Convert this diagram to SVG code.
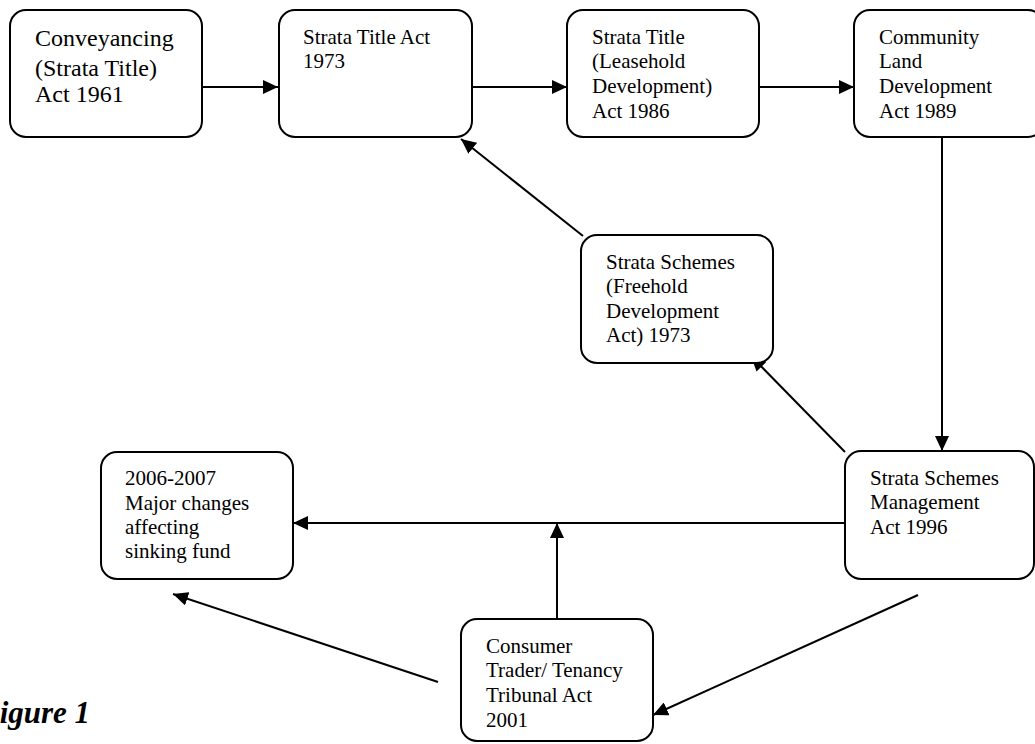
<svg xmlns="http://www.w3.org/2000/svg" width="1035" height="744" viewBox="0 0 1035 744">
<style>
.box{fill:#fff;stroke:#000;stroke-width:2}
.t{font-family:"Liberation Serif","Times New Roman",serif;font-size:21px;fill:#000}
.t1{font-family:"Liberation Serif","Times New Roman",serif;font-size:24px;fill:#000}
.c{stroke:#000;stroke-width:2;fill:none;marker-end:url(#ah)}
.fig{font-family:"Liberation Serif","Times New Roman",serif;font-size:31px;font-weight:bold;font-style:italic;fill:#000}
</style>
<defs>
<marker id="ah" markerUnits="userSpaceOnUse" markerWidth="16" markerHeight="14" refX="15" refY="7" orient="auto">
<path d="M0,0 L15,7 L0,14 Z" fill="#000"/>
</marker>
</defs>
<rect width="1035" height="744" fill="#fff"/>
<g id="connectors">
<line class="c" x1="202" y1="87" x2="278" y2="87"/>
<line class="c" x1="472" y1="87" x2="567" y2="87"/>
<line class="c" x1="759" y1="87" x2="854" y2="87"/>
<line class="c" x1="942" y1="137" x2="942" y2="451"/>
<line class="c" x1="583" y1="236" x2="461" y2="139"/>
<line class="c" x1="845" y1="452" x2="751" y2="356"/>
<line class="c" x1="845" y1="523" x2="293" y2="523"/>
<line class="c" x1="557" y1="619" x2="557" y2="523"/>
<line class="c" x1="918" y1="595" x2="653" y2="715"/>
<line class="c" x1="438" y1="682" x2="173" y2="594"/>
</g>
<g id="n1">
<rect class="box" x="10" y="10" width="192" height="127" rx="16"/>
<text class="t1"><tspan x="35" y="46">Conveyancing</tspan><tspan x="35" y="76">(Strata Title)</tspan><tspan x="35" y="102">Act 1961</tspan></text>
</g>
<g id="n2">
<rect class="box" x="279" y="10" width="193" height="127" rx="16"/>
<text class="t"><tspan x="303" y="44">Strata Title Act</tspan><tspan x="303" y="68">1973</tspan></text>
</g>
<g id="n3">
<rect class="box" x="567" y="10" width="192" height="127" rx="16"/>
<text class="t"><tspan x="592" y="44">Strata Title</tspan><tspan x="592" y="68">(Leasehold</tspan><tspan x="592" y="93">Development)</tspan><tspan x="592" y="118">Act 1986</tspan></text>
</g>
<g id="n4">
<rect class="box" x="854" y="10" width="190" height="127" rx="16"/>
<text class="t"><tspan x="879" y="44">Community</tspan><tspan x="879" y="68">Land</tspan><tspan x="879" y="93">Development</tspan><tspan x="879" y="118">Act 1989</tspan></text>
</g>
<g id="n5">
<rect class="box" x="581" y="235" width="192" height="128" rx="16"/>
<text class="t"><tspan x="606" y="269">Strata Schemes</tspan><tspan x="606" y="293">(Freehold</tspan><tspan x="606" y="318">Development</tspan><tspan x="606" y="342">Act) 1973</tspan></text>
</g>
<g id="n6">
<rect class="box" x="845" y="451" width="189" height="128" rx="16"/>
<text class="t"><tspan x="870" y="485">Strata Schemes</tspan><tspan x="870" y="509">Management</tspan><tspan x="870" y="534">Act 1996</tspan></text>
</g>
<g id="n7">
<rect class="box" x="101" y="452" width="192" height="127" rx="16"/>
<text class="t"><tspan x="125" y="485">2006-2007</tspan><tspan x="125" y="510">Major changes</tspan><tspan x="125" y="534">affecting</tspan><tspan x="125" y="558">sinking fund</tspan></text>
</g>
<g id="n8">
<rect class="box" x="461" y="619" width="192" height="122" rx="16"/>
<text class="t"><tspan x="486" y="653">Consumer</tspan><tspan x="486" y="677">Trader/ Tenancy</tspan><tspan x="486" y="702">Tribunal Act</tspan><tspan x="486" y="727">2001</tspan></text>
</g>
<text class="fig" x="-21" y="723">Figure 1</text>
</svg>
